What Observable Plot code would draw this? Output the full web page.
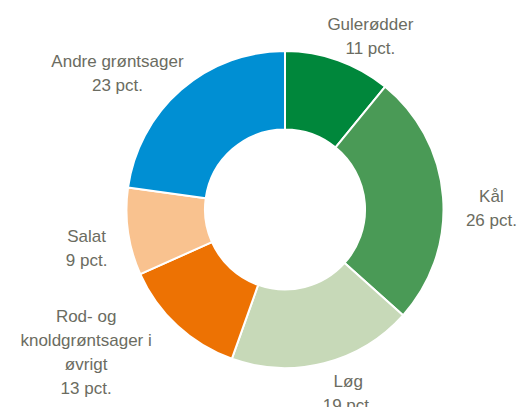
<!DOCTYPE html>
<html>
<head>
<meta charset="utf-8">
<script src="https://cdn.jsdelivr.net/npm/d3@7"></script>
<script src="https://cdn.jsdelivr.net/npm/@observablehq/plot@0.6"></script>
<style>
  html, body { margin: 0; padding: 0; background: #fff; }
  #chart svg { display: block; }
</style>
</head>
<body>
<div id="chart"></div>
<script>
const categories = ["Gulerødder", "Kål", "Løg", "Rod- og\nknoldgrøntsager i\nøvrigt", "Salat", "Andre grøntsager"];
const values = [11, 26, 19, 13, 9, 23];
const valueLabels = ["11 pct.", "26 pct.", "19 pct.", "13 pct.", "9 pct.", "23 pct."];
const colors = ["#00873b", "#4a9a56", "#c7d9b8", "#ed7203", "#f9c28f", "#008fd3"];

const W = 521, H = 407;
const CX = 285, CY = 209.5, R = 158.5;   // layout in pixels
const INNER = 0.505;                    // inner radius / outer radius
const FONT_FAMILY = "'Liberation Sans', Arial, sans-serif";
const FONT_SIZE = 17, LINE_H = 24;

const data = categories.map((c, i) => ({category: c, value: values[i], label: c + "\n" + valueLabels[i], color: colors[i]}));
const arcs = d3.pie().sort(null).value(d => d.value)(data);

// label placement: box pushed outward from the slice's outer edge
const ctx = document.createElement("canvas").getContext("2d");
ctx.font = `${FONT_SIZE}px ${FONT_FAMILY}`;
const pad = 8;
arcs.forEach(a => {
  const lines = a.data.label.split("\n");
  const w = d3.max(lines, l => ctx.measureText(l).width);
  const t = (a.startAngle + a.endAngle) / 2;
  const s = Math.sin(t), c = Math.cos(t);
  const f = 0.7 + 0.9 * s * s - 0.4 * c * Math.abs(s);
  const px = (R + pad) * s + Math.sign(s) * f * w / 2;
  const py = (R + pad) * c - 12 + 33 * Math.max(c, 0) - 8 * Math.max(-c, 0);
  a.lx = px / R;
  a.ly = py / R;
});

const donut = (index, scales) => {
  const cx = scales.x(0), cy = scales.y(0);
  const r = scales.x(1) - scales.x(0);
  const arcGen = d3.arc().innerRadius(r * INNER).outerRadius(r);
  const g = d3.create("svg:g").attr("transform", `translate(${cx},${cy})`);
  g.selectAll("path").data(arcs).join("path")
    .attr("d", arcGen)
    .attr("fill", d => d.data.color)
    .attr("stroke", "#fff")
    .attr("stroke-width", 2)
    .attr("stroke-linejoin", "round");
  return g.node();
};

const chart = Plot.plot({
  width: W,
  height: H,
  margin: 0,
  x: {domain: [-CX / R, (W - CX) / R], range: [0, W], axis: null},
  y: {domain: [-(H - CY) / R, CY / R], range: [H, 0], axis: null},
  style: {fontFamily: FONT_FAMILY, background: "#fff"},
  marks: [
    donut,
    Plot.text(arcs, {
      x: d => d.lx,
      y: d => d.ly,
      text: d => d.data.label,
      fill: "#6b6c61",
      fontSize: FONT_SIZE,
      lineHeight: LINE_H / FONT_SIZE,
      textAnchor: "middle",
      lineAnchor: "middle"
    })
  ]
});
document.getElementById("chart").appendChild(chart);
</script>
</body>
</html>
